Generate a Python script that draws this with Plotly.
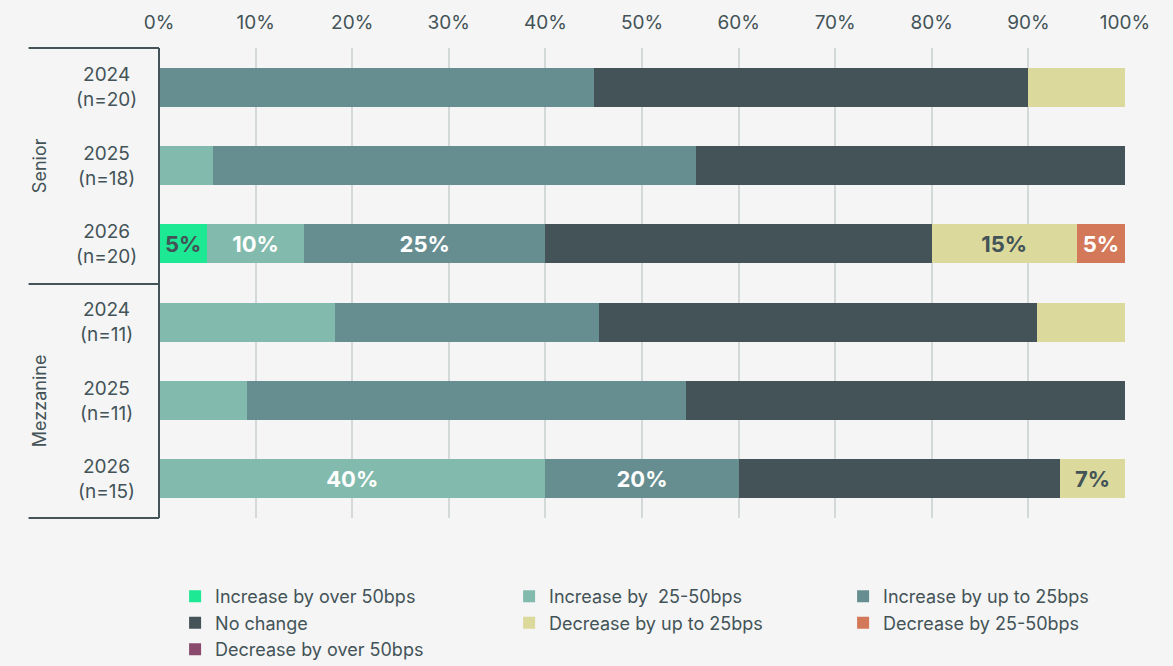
import plotly.graph_objects as go

# Rows (top to bottom) and their groups
years = ["2024", "2025", "2026", "2024", "2025", "2026"]
sample_sizes = ["n=20", "n=18", "n=20", "n=11", "n=11", "n=15"]
groups = ["Senior", "Mezzanine"]

# Share of respondents (%) per response, one value per row
increase_over_50 = [0, 0, 5, 0, 0, 0]
increase_25_50 = [0, 5.6, 10, 18.2, 9.1, 40]
increase_up_to_25 = [45, 50, 25, 27.3, 45.5, 20]
no_change = [45, 44.4, 40, 45.4, 45.4, 33.3]
decrease_up_to_25 = [10, 0, 15, 9.1, 0, 6.7]
decrease_25_50 = [0, 0, 5, 0, 0, 0]
decrease_over_50 = [0, 0, 0, 0, 0, 0]

series_names = [
    "Increase by over 50bps",
    "Increase by  25-50bps",
    "Increase by up to 25bps",
    "No change",
    "Decrease by up to 25bps",
    "Decrease by 25-50bps",
    "Decrease by over 50bps",
]
series_values = [increase_over_50, increase_25_50, increase_up_to_25, no_change,
                 decrease_up_to_25, decrease_25_50, decrease_over_50]
colors = ["#1de894", "#82bbad", "#668e91", "#435357", "#dbd99b", "#d4785a", "#8a4a6e"]
label_colors = ["#435357", "#ffffff", "#ffffff", "#ffffff", "#435357", "#ffffff", "#ffffff"]
show_labels = [True, True, True, False, True, True, True]

DARK = "#435357"
FONT = "Inter"

row_keys = [f"{y}<br>({n})" for y, n in zip(years, sample_sizes)]
labelled_rows = [2, 5]

fig = go.Figure()
for name, vals, col, tcol, show in zip(series_names, series_values, colors,
                                        label_colors, show_labels):
    texts = []
    for i, v in enumerate(vals):
        if show and i in labelled_rows and v > 0:
            texts.append(f"{v:.0f}%")
        else:
            texts.append("")
    fig.add_trace(go.Bar(
        name=name,
        y=row_keys,
        x=vals,
        orientation="h",
        marker=dict(color=col, line=dict(width=0)),
        text=texts,
        textposition="inside",
        insidetextanchor="middle",
        textangle=0,
        textfont=dict(family=FONT, size=22, color=tcol, weight=700),
        hoverinfo="skip",
    ))

# Row labels centred in the left margin
for key, y, n in zip(row_keys, years, sample_sizes):
    fig.add_annotation(
        x=-0.054, xref="paper", y=key, yref="y",
        text=f"{y}<br>({n})", showarrow=False, align="center",
        xanchor="center", yanchor="middle",
        font=dict(family=FONT, size=19, color=DARK),
    )

# Group labels
for g, yc in zip(groups, [0.749, 0.249]):
    fig.add_annotation(
        x=-0.123, xref="paper", y=yc, yref="paper", text=g, textangle=-90,
        showarrow=False, xanchor="center", yanchor="middle",
        font=dict(family=FONT, size=18, color=DARK),
    )

# Bracket lines around the group labels
line = dict(color=DARK, width=2)
fig.add_shape(type="line", xref="paper", yref="paper", x0=0, x1=0, y0=0, y1=1, line=line)
for yy in [1, 0.498, 0]:
    fig.add_shape(type="line", xref="paper", yref="paper", x0=-0.135, x1=0,
                  y0=yy, y1=yy, line=line)

fig.update_layout(
    barmode="stack",
    bargap=0.5,
    width=1173,
    height=666,
    margin=dict(l=159, r=48, t=48, b=148, autoexpand=False),
    paper_bgcolor="#f5f5f5",
    plot_bgcolor="#f5f5f5",
    font=dict(family=FONT, size=18, color=DARK),
    xaxis=dict(
        side="top", range=[0, 100], dtick=10, ticksuffix="%",
        showgrid=True, gridcolor="#d3d8d8", gridwidth=1.5,
        zeroline=False, ticks="", showline=False,
        tickfont=dict(family=FONT, size=19, color=DARK),
        ticklabelstandoff=14,
    ),
    yaxis=dict(
        autorange="reversed", showticklabels=False, showgrid=False,
        zeroline=False, ticks="", showline=False,
    ),
    legend=dict(
        orientation="h", x=-0.0001, xanchor="left",
        y=-0.128, yanchor="top",
        title=dict(text="\u00a0", side="left"),
        entrywidth=289, entrywidthmode="pixels", traceorder="normal",
        font=dict(family=FONT, size=18, color=DARK),
        itemclick=False, itemdoubleclick=False,
    ),
    showlegend=True,
)

fig.write_html("out.html")
